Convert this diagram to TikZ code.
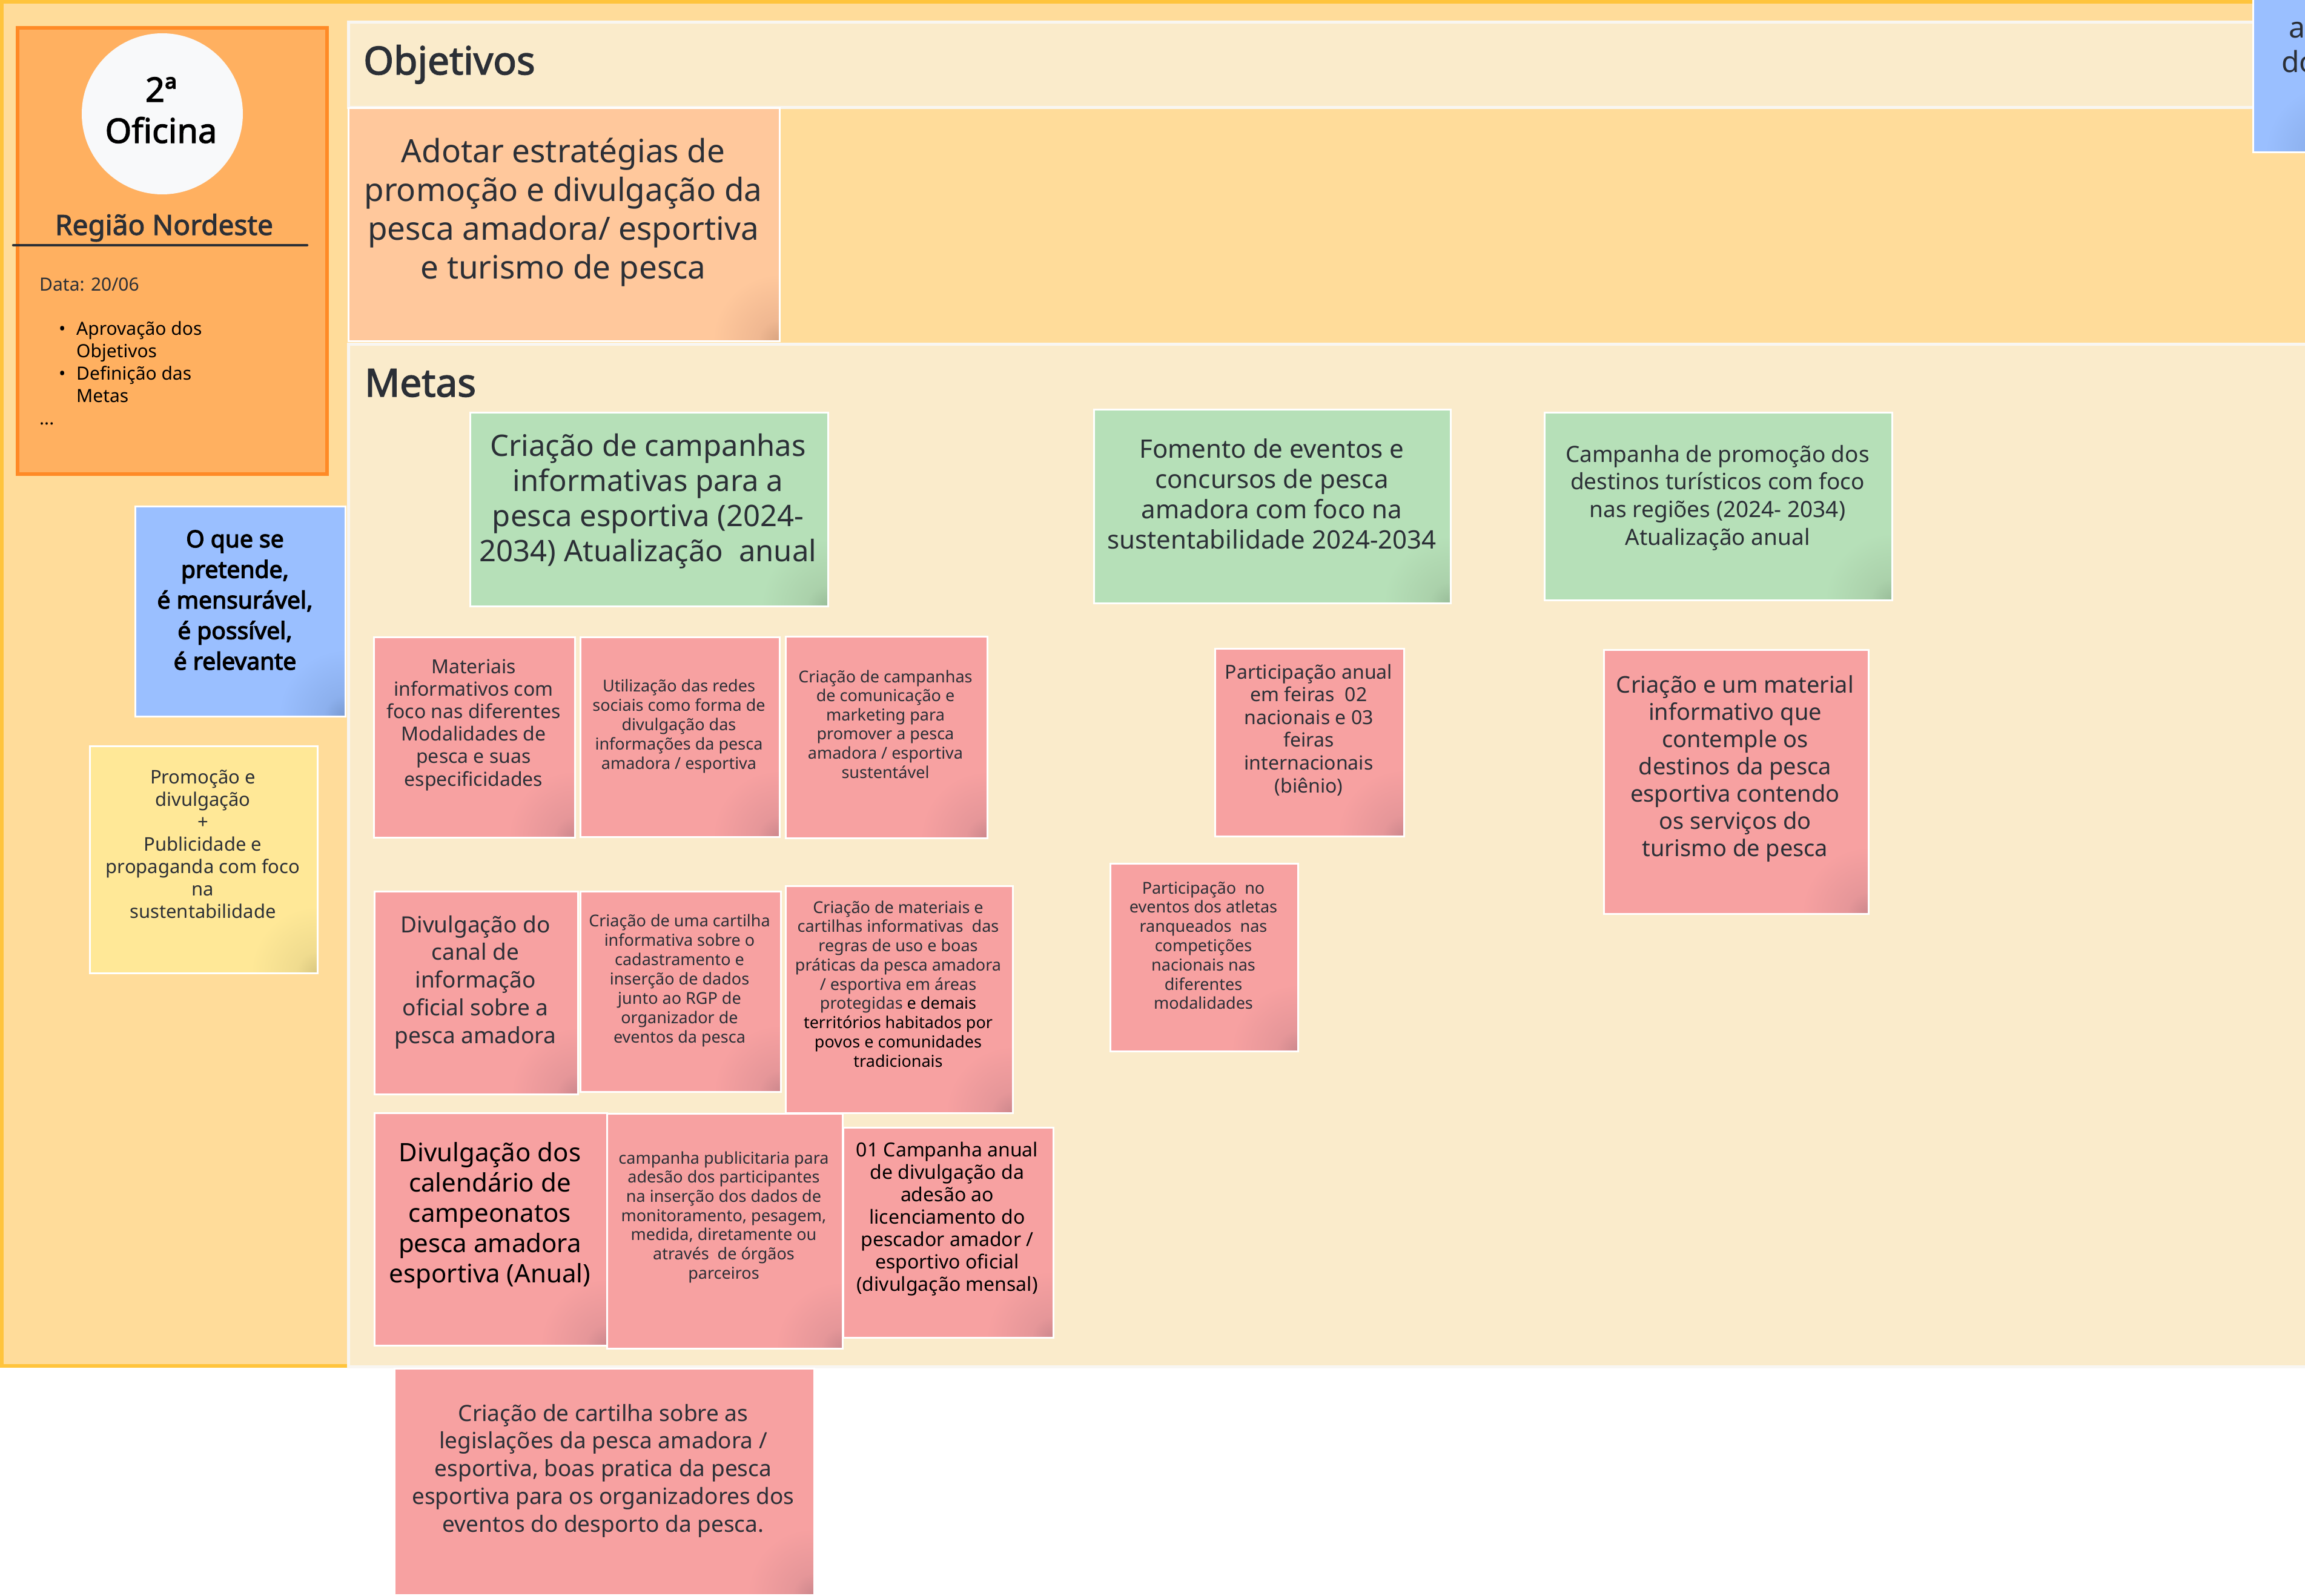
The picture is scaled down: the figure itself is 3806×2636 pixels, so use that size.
\documentclass[tikz,border=0pt]{standalone}
\usepackage{fontspec}
\setmainfont{Noto Sans}
\newfontfamily\semib[FakeBold=2.2]{Noto Sans}
\newfontfamily\fbold[FakeBold=3.2]{Noto Sans}
\definecolor{bgor}{HTML}{FFDC9A}
\definecolor{framec}{HTML}{FFC43C}
\definecolor{panelc}{HTML}{FAEBCB}
\definecolor{panelb}{HTML}{F8F6F2}
\definecolor{peachc}{HTML}{FFC89C}
\definecolor{greenc}{HTML}{B6E0B8}
\definecolor{pinkc}{HTML}{F7A1A1}
\definecolor{bluec}{HTML}{9ABFFF}
\definecolor{yellowc}{HTML}{FFE897}
\definecolor{cardc}{HTML}{FFB060}
\definecolor{cardb}{HTML}{FF8A26}
\definecolor{circc}{HTML}{F8F9FA}
\definecolor{txtc}{HTML}{2B2F36}
\pgfdeclareradialshading{pinkccorner}{\pgfpoint{0bp}{0bp}}{rgb(0bp)=(0.80,0.53,0.55); rgb(35bp)=(0.90,0.59,0.60); rgb(110bp)=(0.969,0.631,0.631); rgb(200bp)=(0.969,0.631,0.631)}
\pgfdeclareradialshading{greenccorner}{\pgfpoint{0bp}{0bp}}{rgb(0bp)=(0.60,0.74,0.60); rgb(35bp)=(0.67,0.82,0.67); rgb(110bp)=(0.714,0.878,0.722); rgb(200bp)=(0.714,0.878,0.722)}
\pgfdeclareradialshading{blueccorner}{\pgfpoint{0bp}{0bp}}{rgb(0bp)=(0.47,0.60,0.82); rgb(35bp)=(0.55,0.69,0.93); rgb(110bp)=(0.604,0.749,1.0); rgb(200bp)=(0.604,0.749,1.0)}
\pgfdeclareradialshading{yellowccorner}{\pgfpoint{0bp}{0bp}}{rgb(0bp)=(0.85,0.78,0.50); rgb(35bp)=(0.94,0.86,0.56); rgb(110bp)=(1,0.91,0.592); rgb(200bp)=(1,0.91,0.592)}
\pgfdeclareradialshading{peachccorner}{\pgfpoint{0bp}{0bp}}{rgb(0bp)=(0.85,0.64,0.50); rgb(35bp)=(0.94,0.72,0.57); rgb(110bp)=(1,0.784,0.612); rgb(200bp)=(1,0.784,0.612)}
\newcommand{\mylines}[1]{\begin{tabular}[t]{@{}c@{}}#1\end{tabular}}
\newcommand{\fsz}[2]{\fontsize{#1}{#2}\selectfont}
\newcommand{\stickybox}[6]{\node[#2, anchor=north west, minimum width={(#5-#3)*1pt}, minimum height={(#6-#4)*1pt}] (#1) at (#3,#4) {};}
\tikzset{
  sticky/.style={fill=#1, draw=white, line width=2.5pt, inner sep=0pt,
    path picture={\pgftext[at=\pgfpointanchor{path picture bounding box}{south east}]{\pgfuseshading{#1corner}}}},
  panel/.style={fill=panelc, draw=panelb, line width=5pt, inner sep=0pt},
  txt/.style={text=txtc, inner sep=0pt, anchor=base},
}
\begin{document}
\begin{tikzpicture}[x=1pt,y=-1pt]
\useasboundingbox (0,0) rectangle (3806,2636);
\clip (0,0) rectangle (3806,2636);
\fill[white] (0,0) rectangle (3806,2636);
\path[fill=bgor, draw=framec, line width=6pt] (3,3) rectangle (3850,2256);
% panels
\stickybox{objpanel}{panel}{573}{34}{3850}{175}
\stickybox{metpanel}{panel}{573}{566}{3850}{2255}
\node[txt, font=\semib\fsz{64}{76}, anchor=base west] (objtitle) at (600,123) {Objetivos};
\node[txt, font=\semib\fsz{64}{76}, anchor=base west] (mettitle) at (602,655) {Metas};
% objective sticky
\stickybox{obj1}{sticky=peachc}{574}{177}{1286}{562}
\node[txt, font=\fsz{53}{64.3}] (obj1t) at (930,268) {\mylines{Adotar estratégias de\\promoção e divulgação da\\pesca amadora/ esportiva\\e turismo de pesca}};
% top-right blue
\stickybox{bluetr}{sticky=bluec}{3719}{-20}{3850}{250}
\node[txt, font=\fsz{48}{57}, anchor=base west] (tra) at (3779,63) {a};
\node[txt, font=\fsz{48}{57}, anchor=base west] (trdo) at (3767,120) {do};
% left card
\path[fill=cardc, draw=cardb, line width=6pt] (29,46) rectangle (540,783);
\node[circle, fill=circc, minimum size=266pt, inner sep=0pt] (circ) at (268,188) {};
\node[txt, font=\semib\fsz{56}{68}, text=black] (ofi) at (266,168) {\mylines{2ª\\Oficina}};
\node[txt, font=\semib\fsz{46}{56}] (regiao) at (271,388) {Região Nordeste};
\coordinate (ul1) at (22,405);
\coordinate (ul2) at (507,405);
\draw[txtc, line width=4.5pt, line cap=round] (ul1) -- (ul2);
\node[txt, font=\fsz{30}{37}, anchor=base west] (data) at (65,480) {Data: 20/06};
\node[txt, font=\fsz{30}{37}, anchor=base west, text=black] (b1) at (97,553) {•};
\node[txt, font=\fsz{30}{37}, anchor=base west, text=black] (b2) at (97,627) {•};
\node[txt, font=\fsz{30}{37}, anchor=base west, text=black, align=left] (it1) at (126,553) {\begin{tabular}[t]{@{}l@{}}Aprovação dos\\Objetivos\\Definição das\\Metas\end{tabular}};
\node[txt, font=\fsz{30}{37}, anchor=base west, text=black] (dots) at (65,701) {...};
% blue box
\stickybox{blueq}{sticky=bluec}{222}{835}{569}{1182}
\node[txt, font=\fbold\fsz{39}{50.5}, text=black] (blueqt) at (388,904) {\mylines{O que se\\pretende,\\é mensurável,\\é possível,\\é relevante}};
% yellow box
\stickybox{yel}{sticky=yellowc}{147}{1231}{523}{1606}
\node[txt, font=\fsz{31}{37}] (yelt) at (335,1294) {\mylines{Promoção e\\divulgação\\+\\Publicidade e\\propaganda com foco\\na\\sustentabilidade}};
% green metas
\stickybox{g1}{sticky=greenc}{775}{680}{1366}{1000}
\node[txt, font=\fsz{49}{58.3}] (g1t) at (1070,753) {\mylines{Criação de campanhas\\informativas para a\\pesca esportiva (2024-\\2034) Atualização~ anual}};
\stickybox{g2}{sticky=greenc}{1805}{675}{2394}{995}
\node[txt, font=\fsz{42}{50.3}] (g2t) at (2100,756) {\mylines{Fomento de eventos e\\concursos de pesca\\amadora com foco na\\sustentabilidade 2024-2034}};
\stickybox{g3}{sticky=greenc}{2549}{680}{3123}{990}
\node[txt, font=\fsz{37}{45.7}] (g3t) at (2836,763) {\mylines{Campanha de promoção dos\\destinos turísticos com foco\\nas regiões (2024- 2034)\\Atualização anual}};
% pink row 1
\stickybox{p1}{sticky=pinkc}{616}{1051}{948}{1382}
\node[txt, font=\fsz{32}{37.2}] (p1t) at (782,1112) {\mylines{Materiais\\informativos com\\foco nas diferentes\\Modalidades de\\pesca e suas\\especificidades}};
\stickybox{p2}{sticky=pinkc}{957}{1051}{1286}{1381}
\node[txt, font=\fsz{27}{32}] (p2t) at (1121,1142) {\mylines{Utilização das redes\\sociais como forma de\\divulgação das\\informações da pesca\\amadora / esportiva}};
\stickybox{p3}{sticky=pinkc}{1296}{1050}{1629}{1383}
\node[txt, font=\fsz{27}{31.6}] (p3t) at (1462,1127) {\mylines{Criação de campanhas\\de comunicação e\\marketing para\\promover a pesca\\amadora / esportiva\\sustentável}};
% pink row 2
\stickybox{p4}{sticky=pinkc}{617}{1471}{953}{1806}
\node[txt, font=\fsz{37}{45.75}] (p4t) at (785,1540) {\mylines{Divulgação do\\canal de\\informação\\oficial sobre a\\pesca amadora}};
\stickybox{p5}{sticky=pinkc}{957}{1471}{1288}{1802}
\node[txt, font=\fsz{27}{32}] (p5t) at (1122,1530) {\mylines{Criação de uma cartilha\\informativa sobre o\\cadastramento e\\inserção de dados\\junto ao RGP de\\organizador de\\eventos da pesca}};
\stickybox{p6}{sticky=pinkc}{1296}{1462}{1671}{1837}
\node[txt, font=\fsz{27}{31.75}] (p6t) at (1483,1508) {\mylines{Criação de materiais e\\cartilhas informativas~ das\\regras de uso e boas\\práticas da pesca amadora\\/ esportiva em áreas\\protegidas \textcolor{black}{e demais}\\\textcolor{black}{territórios habitados por}\\\textcolor{black}{povos e comunidades}\\\textcolor{black}{tradicionais}}};
% pink row 3
\stickybox{p7}{sticky=pinkc}{617}{1837}{1001}{2221}
\node[txt, font=\fsz{42}{50}, text=black] (p7t) at (809,1918) {\mylines{Divulgação dos\\calendário de\\campeonatos\\pesca amadora\\esportiva (Anual)}};
\stickybox{p8}{sticky=pinkc}{1001}{1838}{1390}{2226}
\node[txt, font=\fsz{27}{31.7}] (p8t) at (1195,1922) {\mylines{campanha publicitaria para\\adesão dos participantes\\na inserção dos dados de\\monitoramento, pesagem,\\medida, diretamente ou\\através~ de órgãos\\parceiros}};
\stickybox{p9}{sticky=pinkc}{1391}{1861}{1738}{2208}
\node[txt, font=\fsz{32}{37}, text=black] (p9t) at (1564,1910) {\mylines{01 Campanha anual\\de divulgação da\\adesão ao\\licenciamento do\\pescador amador /\\esportivo oficial\\(divulgação mensal)}};
% pink middle/right
\stickybox{p10}{sticky=pinkc}{2005}{1070}{2317}{1380}
\node[txt, font=\fsz{32}{37.6}] (p10t) at (2161,1121) {\mylines{Participação anual\\em feiras~ 02\\nacionais e 03\\feiras\\internacionais\\(biênio)}};
\stickybox{p11}{sticky=pinkc}{1832}{1425}{2142}{1735}
\node[txt, font=\fsz{27}{31.8}] (p11t) at (1987,1476) {\mylines{Participação~ no\\eventos dos atletas\\ranqueados~ nas\\competições\\nacionais nas\\diferentes\\modalidades}};
\stickybox{p12}{sticky=pinkc}{2647}{1072}{3084}{1508}
\node[txt, font=\fsz{38}{45}] (p12t) at (2865,1144) {\mylines{Criação e um material\\informativo que\\contemple os\\destinos da pesca\\esportiva contendo\\os serviços do\\turismo de pesca}};
% bottom pink
\stickybox{p13}{sticky=pinkc}{650}{2259}{1343}{2633}
\node[txt, font=\fsz{37}{45.75}] (p13t) at (996,2347) {\mylines{Criação de cartilha sobre as\\legislações da pesca amadora /\\esportiva, boas pratica da pesca\\esportiva para os organizadores dos\\eventos do desporto da pesca.}};
\end{tikzpicture}
\end{document}
